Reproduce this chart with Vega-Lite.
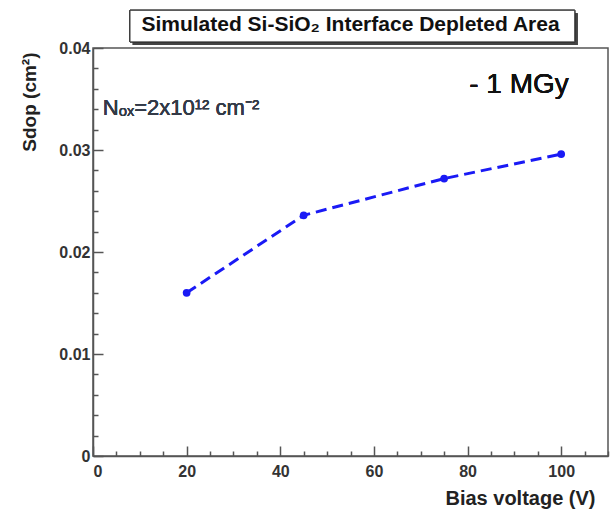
{
  "$schema": "https://vega.github.io/schema/vega-lite/v6.json",
  "autosize": "none",
  "width": 515,
  "height": 408,
  "padding": {"left": 93, "top": 48, "right": 8, "bottom": 54},
  "background": "white",
  "config": {
    "view": {"stroke": "#555", "strokeWidth": 1.5},
    "font": "Liberation Sans"
  },
  "title": {
    "text": "Simulated Si-SiO₂ Interface Depleted Area",
    "font": "Liberation Sans",
    "fontSize": 21,
    "fontWeight": "bold",
    "color": "#111",
    "anchor": "middle",
    "offset": -25,
    "zindex": 5
  },
  "data": {
    "values": [
      {"V": 20, "S": 0.0160},
      {"V": 45, "S": 0.0236},
      {"V": 75, "S": 0.0272},
      {"V": 100, "S": 0.0296}
    ]
  },
  "layer": [
    {
      "mark": {"type": "rect", "fill": "#444", "clip": false},
      "encoding": {
        "x": {"datum": 8.5}, "x2": {"datum": 103.5},
        "y": {"datum": 0.0434}, "y2": {"datum": 0.0403}
      }
    },
    {
      "mark": {"type": "rect", "fill": "white", "stroke": "#333", "strokeWidth": 1, "clip": false},
      "encoding": {
        "x": {"datum": 7.9}, "x2": {"datum": 102.9},
        "y": {"datum": 0.0437}, "y2": {"datum": 0.0406}
      }
    },
    {
      "mark": {"type": "line", "color": "#1a1af5", "strokeWidth": 3, "strokeDash": [11, 6]},
      "encoding": {
        "x": {
          "field": "V", "type": "quantitative",
          "scale": {"domain": [0, 110], "nice": false, "zero": false},
          "axis": {
            "title": "Bias voltage (V)",
            "titleFont": "Liberation Sans", "titleFontSize": 20, "titleFontWeight": "bold", "titleColor": "#222",
            "titleAlign": "right", "titleAnchor": null, "titleX": 502, "titleY": 42, "titleBaseline": "middle",
            "values": [0,5,10,15,20,25,30,35,40,45,50,55,60,65,70,75,80,85,90,95,100,105,110],
            "tickCount": 200,
            "labelExpr": "datum.value % 20 == 0 && datum.value <= 100 ? '' + datum.value : ''",
            "labelOverlap": false,
            "labelFont": "Liberation Sans", "labelFontSize": 16, "labelFontWeight": "bold", "labelColor": "#333",
            "labelPadding": 17,
            "tickSize": {"condition": {"test": "datum.value % 20 == 0", "value": -10}, "value": -5},
            "tickColor": "#555", "tickWidth": 1.5,
            "domainColor": "#555", "domainWidth": 1.5,
            "grid": false
          }
        },
        "y": {
          "field": "S", "type": "quantitative",
          "scale": {"domain": [0, 0.04], "nice": false},
          "axis": {
            "title": "Sdop (cm²)",
            "titleFont": "Liberation Sans", "titleFontSize": 19, "titleFontWeight": "bold", "titleColor": "#222",
            "titleAnchor": null, "titleAngle": -90, "titleAlign": "right", "titleBaseline": "middle", "titleX": -64, "titleY": 4,
            "values": [0,0.002,0.004,0.006,0.008,0.01,0.012,0.014,0.016,0.018,0.02,0.022,0.024,0.026,0.028,0.03,0.032,0.034,0.036,0.038,0.04],
            "tickCount": 200,
            "labelExpr": "round(datum.value*500) % 5 == 0 ? '' + round(datum.value*100)/100 : ''",
            "labelOverlap": false,
            "labelFont": "Liberation Sans", "labelFontSize": 16, "labelFontWeight": "bold", "labelColor": "#333",
            "labelPadding": 13,
            "tickSize": {"condition": {"test": "round(datum.value*500) % 5 == 0", "value": -10}, "value": -5},
            "tickColor": "#555", "tickWidth": 1.5,
            "domainColor": "#555", "domainWidth": 1.5,
            "grid": false
          }
        }
      }
    },
    {
      "mark": {"type": "point", "filled": true, "color": "#1a1af5", "size": 60, "opacity": 1},
      "encoding": {
        "x": {"field": "V", "type": "quantitative"},
        "y": {"field": "S", "type": "quantitative"}
      }
    },
    {
      "mark": {"type": "text", "text": "- 1 MGy", "fontSize": 28, "font": "Liberation Sans", "color": "#111", "align": "center", "baseline": "middle"},
      "encoding": {
        "x": {"datum": 91},
        "y": {"datum": 0.0364}
      }
    },
    {
      "mark": {"type": "text", "text": "Nₒₓ=2x10¹² cm⁻²", "fontSize": 22, "font": "Liberation Sans", "color": "#333a48", "align": "left", "baseline": "middle"},
      "encoding": {
        "x": {"datum": 2.1},
        "y": {"datum": 0.0341}
      }
    }
  ]
}
